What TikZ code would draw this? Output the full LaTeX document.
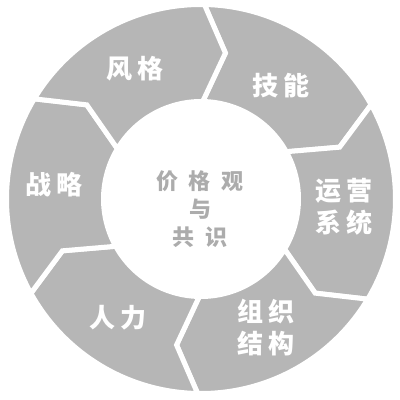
\documentclass[tikz,border=0pt]{standalone}
\usepackage{fontspec}
\newfontfamily\cjk[LetterSpace=20]{Noto Sans CJK SC}
\newfontfamily\cjkmid[LetterSpace=48]{Noto Sans CJK SC}
\definecolor{segfill}{RGB}{182,182,182}
\definecolor{midtext}{RGB}{172,172,172}

\begin{document}
\begin{tikzpicture}[x=1pt,y=1pt,
        segment/.style={fill=segfill, draw=white, line width=5pt, line join=miter},
        seglabel/.style={text=white, font=\cjk\bfseries\fontsize{26}{32}\selectfont, align=center},
        midlabel/.style={text=midtext, font=\cjkmid\bfseries\fontsize{22}{28}\selectfont, align=center}]
        \useasboundingbox (0,0) rectangle (400,400);
        \begin{scope}[shift={(201,201)}]
            \foreach \a in {89,29,-31,-91,-151,-211}
            {
                \pgfmathsetmacro\b{\a-60}
                \draw[segment] (\a:194.5) arc[start angle=\a, end angle=\b, radius=194.5]
                    -- ({\b-8.5}:148) -- (\b:97.5) arc[start angle=\b, end angle=\a, radius=97.5]
                    -- ({\a-8.5}:148) -- cycle;
            }
            \node[seglabel] (fengge) at (117:146) {风格};
            \node[seglabel] (jineng) at (55:139) {技能};
            \node[seglabel] (yunying) at (-3:143) {运营\\系统};
            \node[seglabel] (zuzhi) at (-63:144) {组织\\结构};
            \node[seglabel] (renli) at (-125:145) {人力};
            \node[seglabel] (zhanlue) at (174.5:148) {战略};
            \node[midlabel] (jiage) at (-1,-10) {价格观\\与\\共识};
        \end{scope}
\end{tikzpicture}
\end{document}
